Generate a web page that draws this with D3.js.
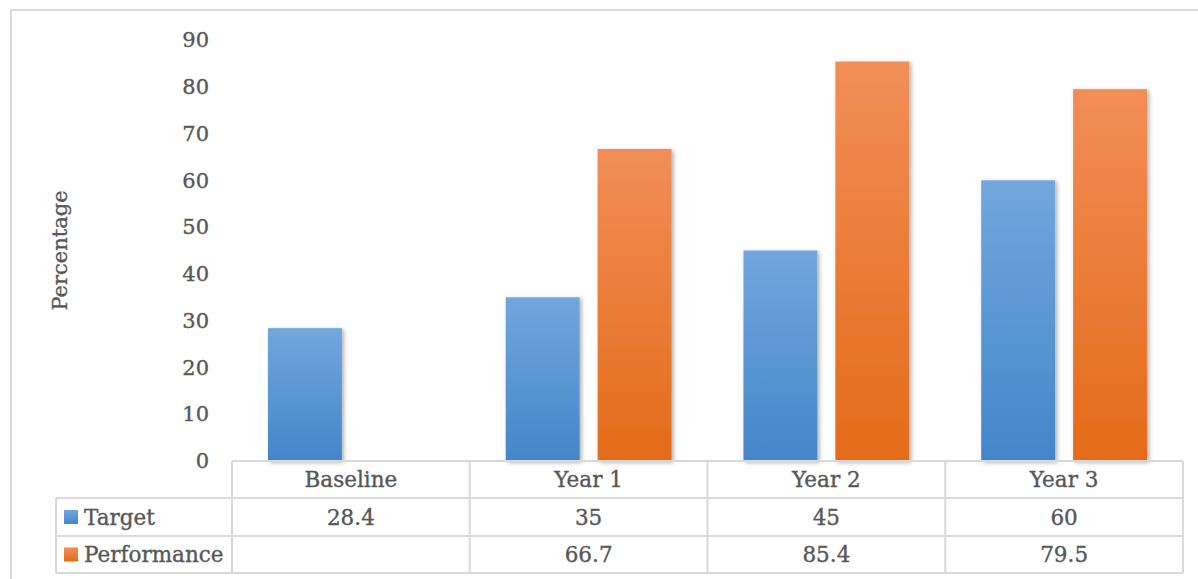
<!DOCTYPE html>
<html>
<head>
<meta charset="utf-8">
<script src="https://cdn.jsdelivr.net/npm/d3@7"></script>
<style>
  html, body { margin: 0; padding: 0; background: #fff; }
  svg { display: block; }
  text {
    font-family: "Century Schoolbook", "DejaVu Serif", "Liberation Serif", serif;
    fill: #575757; stroke: #575757; stroke-width: 0.35px;
  }
</style>
</head>
<body>
<svg id="chart" width="1198" height="579"></svg>
<script>
// Categories, series and values
const categories = ["Baseline", "Year 1", "Year 2", "Year 3"];
const seriesNames = ["Target", "Performance"];
const targetValues = [28.4, 35, 45, 60];
const performanceValues = [null, 66.7, 85.4, 79.5];
const yTicks = [0, 10, 20, 30, 40, 50, 60, 70, 80, 90];
const yTitle = "Percentage";

const seriesValues = [targetValues, performanceValues];

const svg = d3.select("#chart");
const W = 1198, H = 579;

// Layout
const plotLeft = 232, plotRight = 1183;
const plotTop = 40, plotBottom = 461;
const rowH = [37, 38, 37];
const legendLeft = 56;
const lineColor = "#d9d9d9";
const tableFont = "21.5px";

// Gradients & shadow
const defs = svg.append("defs");
const gradStops = [
  ["#71a7dd", "#4386c9"],
  ["#f18e57", "#e46b19"]
];
gradStops.forEach((c, i) => {
  const g = defs.append("linearGradient").attr("id", "grad" + i)
    .attr("x1", 0).attr("y1", 0).attr("x2", 0).attr("y2", 1);
  g.append("stop").attr("offset", "0%").attr("stop-color", c[0]);
  g.append("stop").attr("offset", "100%").attr("stop-color", c[1]);
});
const f = defs.append("filter").attr("id", "shadow")
  .attr("x", "-20%").attr("y", "-20%").attr("width", "150%").attr("height", "150%");
f.append("feDropShadow").attr("dx", 2).attr("dy", 1.5).attr("stdDeviation", 2.2)
  .attr("flood-color", "#000").attr("flood-opacity", 0.32);

// Chart area border
svg.append("rect")
  .attr("x", 11).attr("y", 10).attr("width", W + 20).attr("height", H + 20)
  .attr("fill", "#fff").attr("stroke", lineColor).attr("stroke-width", 2);

// Scales
const x0 = d3.scaleBand().domain(categories).range([plotLeft, plotRight]).padding(0);
const x1 = d3.scaleBand().domain(seriesNames).range([0, x0.bandwidth()])
  .paddingInner(18 / 92).paddingOuter(36 / 92);
const y = d3.scaleLinear().domain([0, 90]).range([plotBottom, plotTop]);

// Y axis
const yAxis = svg.append("g")
  .attr("transform", `translate(${plotLeft - 14},0)`)
  .call(d3.axisLeft(y).tickValues(yTicks).tickSize(0).tickPadding(9));
yAxis.select(".domain").remove();
yAxis.selectAll("text")
  .style("font-family", '"Century Schoolbook", "DejaVu Serif", serif')
  .style("font-size", "21px").attr("fill", "#575757");

// Y axis title
svg.append("text")
  .attr("transform", `translate(67,${(plotTop + plotBottom) / 2}) rotate(-90)`)
  .attr("text-anchor", "middle")
  .style("font-size", "21px")
  .text(yTitle);

// Bars
const barData = [];
categories.forEach((c, ci) => {
  seriesNames.forEach((s, si) => {
    const v = seriesValues[si][ci];
    if (v !== null && v !== undefined) barData.push({ c, s, si, v });
  });
});
svg.append("g").selectAll("rect")
  .data(barData).join("rect")
  .attr("x", d => x0(d.c) + x1(d.s))
  .attr("y", d => y(d.v))
  .attr("width", x1.bandwidth())
  .attr("height", d => y(0) - y(d.v))
  .attr("fill", d => `url(#grad${d.si})`)
  .attr("filter", "url(#shadow)");

// Data table
const table = svg.append("g");
const rowTops = [plotBottom, plotBottom + rowH[0], plotBottom + rowH[0] + rowH[1]];
const tableBottom = rowTops[2] + rowH[2];
const lineStyle = sel => sel.attr("stroke", lineColor).attr("stroke-width", 2).attr("fill", "none");

// Horizontal lines
table.append("line").attr("x1", plotLeft).attr("x2", plotRight)
  .attr("y1", rowTops[0]).attr("y2", rowTops[0]).call(lineStyle);
[rowTops[1], rowTops[2], tableBottom].forEach(yy => {
  table.append("line").attr("x1", legendLeft).attr("x2", plotRight)
    .attr("y1", yy).attr("y2", yy).call(lineStyle);
});
// Vertical lines
const bounds = categories.map(c => x0(c)).concat([plotRight]);
bounds.forEach(xx => {
  table.append("line").attr("x1", xx).attr("x2", xx)
    .attr("y1", rowTops[0]).attr("y2", tableBottom).call(lineStyle);
});
table.append("line").attr("x1", legendLeft).attr("x2", legendLeft)
  .attr("y1", rowTops[1]).attr("y2", tableBottom).call(lineStyle);

// Category header
table.selectAll("text.cat").data(categories).join("text")
  .attr("class", "cat")
  .attr("x", d => x0(d) + x0.bandwidth() / 2)
  .attr("y", rowTops[0] + rowH[0] / 2)
  .attr("dy", "0.36em")
  .attr("text-anchor", "middle")
  .style("font-size", tableFont)
  .text(d => d);

// Series rows
seriesNames.forEach((s, si) => {
  const top = rowTops[si + 1], h = rowH[si + 1];
  const cy = top + h / 2;
  table.append("rect")
    .attr("x", 64).attr("y", cy - 7).attr("width", 14).attr("height", 14)
    .attr("fill", `url(#grad${si})`);
  table.append("text")
    .attr("x", 84).attr("y", cy).attr("dy", "0.36em")
    .style("font-size", tableFont)
    .text(s);
  categories.forEach((c, ci) => {
    const v = seriesValues[si][ci];
    if (v === null || v === undefined) return;
    table.append("text")
      .attr("x", x0(c) + x0.bandwidth() / 2)
      .attr("y", cy).attr("dy", "0.36em")
      .attr("text-anchor", "middle")
      .style("font-size", tableFont)
      .text(v);
  });
});
</script>
</body>
</html>
